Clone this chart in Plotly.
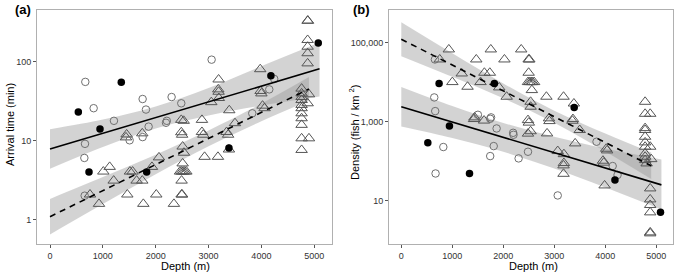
import plotly.graph_objects as go

# ---------------- Panel (a): arrival time ----------------
a_tri_x = [757, 927, 1009, 1129, 1205, 1450, 1438, 1463, 1513, 1563, 1639, 1746, 1766, 1746, 1929,
           2011, 2062, 2345, 2490, 2500, 2490, 2460, 2490, 2520, 2550, 2580, 2510, 2535, 2510, 2484,
           2500, 2484, 2530, 2875, 2875, 2900, 2925, 3052, 3178, 3190, 3184, 3190, 3195, 3392, 3342,
           3370, 3386, 3500, 3978, 3985, 4000, 4022, 4060, 4761, 4761, 4761, 4761, 4761, 4761, 4761,
           4761, 4761, 4761, 4761, 4875, 4880, 4875, 4875, 4875, 4875, 4875, 4900, 4900]
a_tri_y = [2.1, 1.6, 4.1, 4.7, 3.15, 12.1, 11.1, 2.1, 4.1, 4.1, 3.15, 3.15, 1.6, 12.5, 4.7,
           2.1, 6.2, 1.6, 2.1, 2.1, 3.15, 4.1, 4.1, 4.1, 4.1, 4.1, 5.2, 7.1, 8.5, 12.9,
           12.0, 18.5, 18.0, 18.5, 13.0, 12.0, 6.3, 31, 6.3, 60, 45, 42, 35, 24.5, 13.0,
           12.0, 7.8, 16.8, 81, 43, 40, 28, 26, 46, 40, 36, 33, 28.6, 26, 22.4,
           19.4, 16, 10.8, 7.7, 333, 333, 190, 156, 129, 96, 30, 39, 10.8]
a_open_x = [668, 826, 662, 650, 656, 1210, 1507, 1753, 1753, 1816, 1866, 2210, 2195, 2301, 2484,
            3058, 3827, 4149, 4243]
a_open_y = [56, 26, 9.2, 6.1, 2.03, 18, 10.2, 11.2, 34, 25, 15.2, 18, 17, 36, 30,
            107, 22.4, 45, 61]
a_fill_x = [536, 738, 946, 1349, 1829, 3386, 4180, 5076]
a_fill_y = [23.3, 4.06, 14.2, 55.3, 4.06, 8.15, 67, 174]

a_solid_x = [0, 5100]
a_solid_y = [7.9, 82]
a_solid_band_x = [0, 1000, 2000, 3000, 4000, 5100]
a_solid_hi = [14.1, 18.7, 27.4, 46.9, 88.5, 176]
a_solid_lo = [4.46, 8.4, 14.4, 21.0, 28.0, 36.5]

a_dash_x = [0, 4900]
a_dash_y = [1.1, 45.6]
a_dash_band_x = [0, 1000, 2000, 3000, 4000, 4900]
a_dash_hi = [1.85, 3.49, 6.71, 13.6, 29.7, 64.4]
a_dash_lo = [0.656, 1.59, 3.78, 8.55, 17.8, 32.3]

# ---------------- Panel (b): density ----------------
b_tri_x = [754, 932, 1001, 1185, 1299, 1470, 1553, 1629, 1736, 1755, 1426, 1436, 1623, 1920, 2022,
           2066, 2351, 2497, 2510, 2497, 2484, 2515, 2545, 2570, 2604, 2560, 2535, 2535, 2484, 2500,
           2535, 2484, 2845, 2896, 2905, 2858, 3181, 3067, 3188, 3188, 3181, 3181, 3384, 3365, 3355,
           3409, 3498, 3954, 3970, 3986, 4018, 4035, 4780, 4780, 4880, 4780, 4780, 4780, 4780, 4780,
           4780, 4780, 4780, 4810, 4880, 4880, 4880, 4880, 4880, 4880, 4880, 4900]
b_tri_y = [37800, 67800, 10100, 16700, 7700, 37800, 10100, 17400, 17400, 67800, 1170, 1290, 1070, 7400, 37800,
           4300, 67800, 37800, 37800, 17400, 10100, 10100, 10100, 10100, 10100, 6340, 3200, 2400, 1100, 950,
           575, 500, 4300, 1220, 1040, 507, 4300, 181, 151, 90, 78.5, 48, 2900, 1170, 1060,
           283, 617, 103, 92, 24.4, 207, 188, 3200, 1590, 1590, 690, 617, 417, 300, 233,
           158, 130, 107, 88, 20.5, 10.8, 7.8, 5.07, 1.58, 1.49, 233, 113]
b_open_x = [659, 646, 665, 672, 824, 1502, 1743, 1760, 1743, 1869, 1812, 2193, 2200, 2300, 2484,
            3067, 3828, 4144, 4240]
b_open_y = [37800, 4130, 1860, 49, 229, 1500, 1190, 1290, 135, 676, 242, 525, 468, 118, 174,
            13.6, 312, 75.5, 45]
b_fill_x = [520, 741, 944, 1337, 1825, 3390, 4189, 5082]
b_fill_y = [294, 9330, 777, 49, 9330, 2300, 33.3, 5.07]

b_solid_x = [0, 5100]
b_solid_y = [2400, 25.2]
b_solid_band_x = [0, 1000, 2000, 3000, 4000, 5100]
b_solid_hi = [7586, 2500, 935, 414, 209, 110]
b_solid_lo = [759, 385, 173, 65.3, 21.6, 6.0]

b_dash_x = [0, 4900]
b_dash_y = [123000, 76.7]
b_dash_band_x = [0, 1000, 2000, 3000, 4000, 4900]
b_dash_hi = [331000, 54300, 9350, 1910, 505, 167]
b_dash_lo = [45700, 13700, 3920, 944, 176, 35.3]

x_ticks = [0, 1000, 2000, 3000, 4000, 5000]
a_y_ticks = [1, 10, 100]
a_y_labels = ["1", "10", "100"]
b_y_ticks = [10, 1000, 100000]
b_y_labels = ["10", "1,000", "100,000"]

W, H = 685, 275
fig = go.Figure()

BAND = "rgba(150,150,150,0.42)"
TRI = "#555555"
CIRC = "#707070"


def add_panel(xa, ya, tri_x, tri_y, open_x, open_y, fill_x, fill_y,
              s_x, s_y, s_bx, s_hi, s_lo, d_x, d_y, d_bx, d_hi, d_lo):
    for bx, hi, lo in ((s_bx, s_hi, s_lo), (d_bx, d_hi, d_lo)):
        fig.add_trace(go.Scatter(x=bx, y=hi, mode="lines", line=dict(width=0, shape="spline"),
                                 xaxis=xa, yaxis=ya, showlegend=False, hoverinfo="skip"))
        fig.add_trace(go.Scatter(x=bx, y=lo, mode="lines", line=dict(width=0, shape="spline"),
                                 fill="tonexty", fillcolor=BAND,
                                 xaxis=xa, yaxis=ya, showlegend=False, hoverinfo="skip"))
    fig.add_trace(go.Scatter(x=tri_x, y=tri_y, mode="markers",
                             marker=dict(symbol="triangle-up-open", size=10,
                                         color=TRI, line=dict(width=1, color=TRI)),
                             xaxis=xa, yaxis=ya, showlegend=False))
    fig.add_trace(go.Scatter(x=open_x, y=open_y, mode="markers",
                             marker=dict(symbol="circle-open", size=7.5,
                                         color=CIRC, line=dict(width=1, color=CIRC)),
                             xaxis=xa, yaxis=ya, showlegend=False))
    fig.add_trace(go.Scatter(x=fill_x, y=fill_y, mode="markers",
                             marker=dict(symbol="circle", size=7.5, color="black",
                                         line=dict(width=0)),
                             xaxis=xa, yaxis=ya, showlegend=False))
    fig.add_trace(go.Scatter(x=s_x, y=s_y, mode="lines", line=dict(color="black", width=1.6),
                             xaxis=xa, yaxis=ya, showlegend=False))
    fig.add_trace(go.Scatter(x=d_x, y=d_y, mode="lines",
                             line=dict(color="black", width=1.6, dash="6px,5px"),
                             xaxis=xa, yaxis=ya, showlegend=False))


add_panel("x", "y", a_tri_x, a_tri_y, a_open_x, a_open_y, a_fill_x, a_fill_y,
          a_solid_x, a_solid_y, a_solid_band_x, a_solid_hi, a_solid_lo,
          a_dash_x, a_dash_y, a_dash_band_x, a_dash_hi, a_dash_lo)
add_panel("x2", "y2", b_tri_x, b_tri_y, b_open_x, b_open_y, b_fill_x, b_fill_y,
          b_solid_x, b_solid_y, b_solid_band_x, b_solid_hi, b_solid_lo,
          b_dash_x, b_dash_y, b_dash_band_x, b_dash_hi, b_dash_lo)

FONT = "Liberation Sans, Arial, sans-serif"
axcommon = dict(showgrid=False, zeroline=False, showline=True, linecolor="#b0b0b0", linewidth=1,
                mirror=True, ticks="outside", ticklen=3, tickcolor="#555555",
                tickfont=dict(family=FONT, size=9, color="#333333"))

top = (H - 10) / H
bot = (H - 244) / H
fig.update_layout(
    width=W, height=H, margin=dict(l=0, r=0, t=0, b=0),
    paper_bgcolor="white", plot_bgcolor="white", showlegend=False,
    xaxis=dict(domain=[37 / W, 332 / W], range=[-246, 5336], tickvals=x_ticks, anchor="y", **axcommon),
    yaxis=dict(domain=[bot, top], type="log", range=[-0.304, 2.658], tickvals=a_y_ticks,
               ticktext=a_y_labels, anchor="x", **axcommon),
    xaxis2=dict(domain=[389 / W, 673 / W], range=[-241, 5327], tickvals=x_ticks, anchor="y2", **axcommon),
    yaxis2=dict(domain=[bot, top], type="log", range=[-0.096, 5.83], tickvals=b_y_ticks,
                ticktext=b_y_labels, anchor="x2", **axcommon),
)

ann = [
    dict(text="<b>(a)</b>", x=14 / W, y=1 - 1 / H, xanchor="left", yanchor="top", font_size=13),
    dict(text="<b>(b)</b>", x=352 / W, y=1 - 1 / H, xanchor="left", yanchor="top", font_size=13),
    dict(text="Depth (m)", x=185 / W, y=2 / H, xanchor="center", yanchor="bottom", font_size=11),
    dict(text="Depth (m)", x=533 / W, y=2 / H, xanchor="center", yanchor="bottom", font_size=11),
    dict(text="Arrival time (min)", x=10 / W, y=1 - 125 / H, xanchor="center", yanchor="middle",
         textangle=-90, font_size=11),
    dict(text="Density (fish / km <sup>2</sup>)", x=354 / W, y=1 - 133 / H, xanchor="center",
         yanchor="middle", textangle=-90, font_size=11),
]
for a in ann:
    fs = a.pop("font_size")
    fig.add_annotation(xref="paper", yref="paper", showarrow=False, borderpad=0,
                       font=dict(family=FONT, size=fs, color="black"), **a)

fig.write_html("out.html", config={"displayModeBar": False},
               post_script="document.body.style.margin='0px';document.body.style.overflow='hidden';")
